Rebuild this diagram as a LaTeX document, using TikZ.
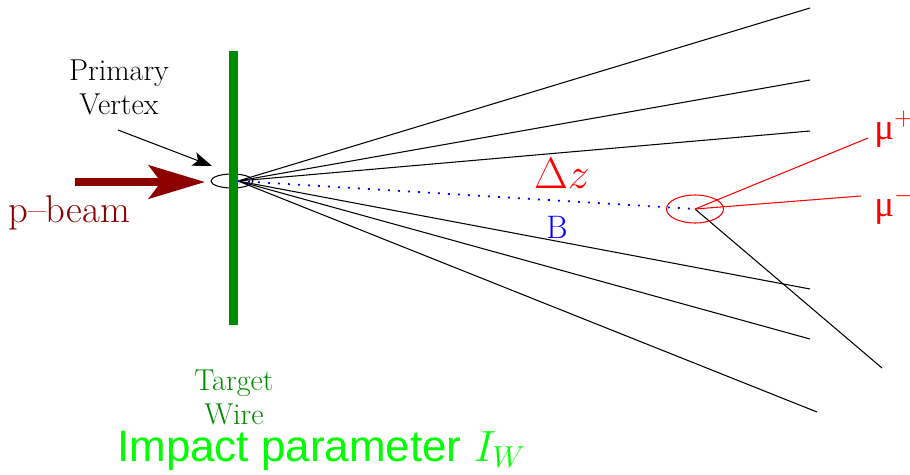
\documentclass[tikz,border=0pt]{standalone}
\usepackage{fontspec}
\newfontfamily\greekfont{Liberation Serif}
\newfontfamily\helv{Liberation Sans}
\usetikzlibrary{arrows.meta}
\definecolor{beamred}{RGB}{140,0,0}
\definecolor{wiregreen}{RGB}{0,140,0}
\definecolor{brightgreen}{RGB}{0,255,0}
\begin{document}
\begin{tikzpicture}[x=0.02cm,y=-0.02cm,
  track/.style={line width=0.6pt, black},
  mutrack/.style={line width=0.6pt, red},
  lbl/.style={inner sep=0pt, anchor=base},
  serif17/.style={font=\fontsize{17.2}{20}\selectfont}
]
\useasboundingbox (0,0) rectangle (910,474);

% key points
\coordinate (pv) at (238,181);
\coordinate (sv) at (695,209);
\coordinate (t1) at (810,8);
\coordinate (t2) at (810,80);
\coordinate (t3) at (810,131);
\coordinate (t4) at (810,289);
\coordinate (t5) at (810,339);
\coordinate (t6) at (817,412);
\coordinate (t7) at (882,368);
\coordinate (mup) at (868,138);
\coordinate (mum) at (861,196);

% primary vertex ellipse
\draw[line width=0.6pt] (232,181) ellipse [x radius=0.42cm, y radius=0.14cm];

% tracks
\foreach \t in {t1,t2,t3,t4,t5,t6} \draw[track] (pv) -- (\t);
\draw[track] (sv) -- (t7);

% B flight path
\draw[blue, line width=1pt, dash pattern=on 1.1pt off 4.6pt] (pv) -- (sv);

% secondary vertex
\draw[red, line width=0.6pt] (sv) ellipse [x radius=0.57cm, y radius=0.28cm];
\draw[mutrack] (sv) -- (mup);
\draw[mutrack] (sv) -- (mum);

% target wire
\coordinate (wtop) at (233.5,51);
\coordinate (wbot) at (233.5,325);
\draw[wiregreen, line width=5.1pt] (wtop) -- (wbot);

% beam arrow
\coordinate (bstart) at (75,182);
\coordinate (bend) at (205,182);
\draw[beamred, line width=4pt, -{Stealth[length=32pt, width=19pt, inset=7pt]}] (bstart) -- (bend);
\node[lbl, anchor=base west, text=beamred, font=\fontsize{22}{26}\selectfont] (beam) at (8,222) {p--beam};

% primary vertex label
\node[lbl, serif17] (pvl1) at (119,80) {Primary};
\node[lbl, serif17] (pvl2) at (119,114) {Vertex};
\coordinate (pvastart) at (118,130);
\coordinate (pvaend) at (212,166);
\draw[line width=0.6pt, -{Stealth[length=11pt, width=8pt, inset=2.5pt]}] (pvastart) -- (pvaend);

% target wire label
\node[lbl, serif17, text=wiregreen] (tw1) at (234,390) {Target};
\node[lbl, serif17, text=wiregreen] (tw2) at (234,424) {Wire};

% delta z and B
\node[lbl, text=red, font=\fontsize{24}{28}\selectfont] (dz) at (562,188) {$\Delta z$};
\node[lbl, text=blue, font=\fontsize{18.5}{22}\selectfont] (B) at (557,238) {B};

% muon labels
\node[lbl, anchor=base west, text=red, font=\fontsize{21}{24}\selectfont] (mupl) at (874,139) {\greekfont μ$^{+}$};
\node[lbl, anchor=base west, text=red, font=\fontsize{21}{24}\selectfont] (muml) at (874,216) {\greekfont μ$^{-}$};

% impact parameter
\node[lbl, anchor=base west, text=brightgreen, font=\fontsize{25}{29}\selectfont] (ip) at (117,461) {\helv Impact parameter $I_W$};
\end{tikzpicture}
\end{document}
